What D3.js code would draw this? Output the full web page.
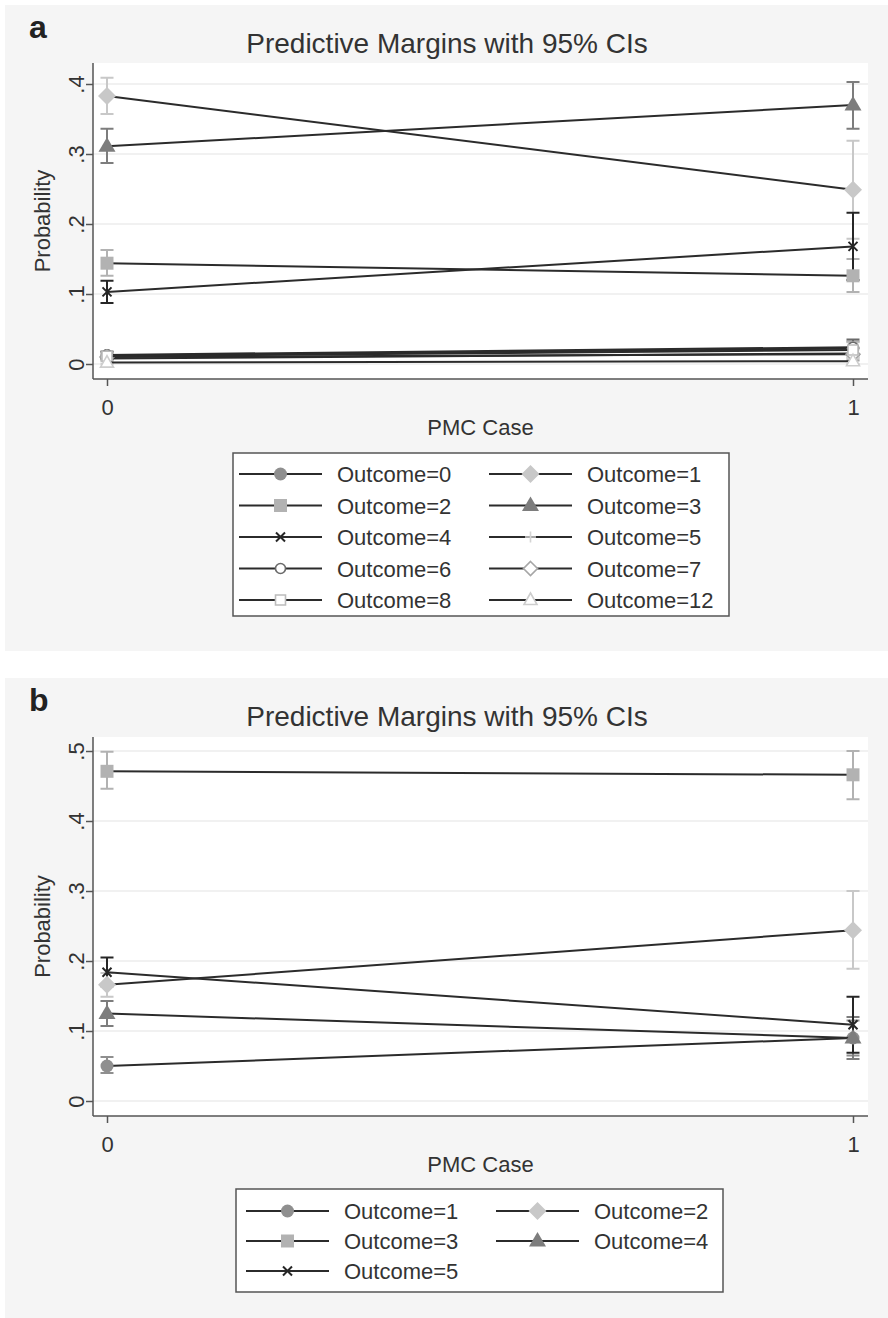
<!DOCTYPE html>
<html>
<head>
<meta charset="utf-8">
<script src="https://cdn.jsdelivr.net/npm/d3@7"></script>
<style>
  body { margin: 0; background: #fff; }
  svg text { font-family: "Liberation Sans", Arial, Helvetica, sans-serif; fill: #333; }
</style>
</head>
<body>
<div id="chart"></div>
<script>
// ---- data, panel a ----
const aOutcomes = ['Outcome=0', 'Outcome=1', 'Outcome=2', 'Outcome=3', 'Outcome=4',
                   'Outcome=5', 'Outcome=6', 'Outcome=7', 'Outcome=8', 'Outcome=12'];
const aMargin0 = [0.012, 0.383, 0.144, 0.311, 0.103, 0.008, 0.013, 0.010, 0.011, 0.002];
const aMargin1 = [0.022, 0.249, 0.126, 0.370, 0.168, 0.015, 0.024, 0.014, 0.020, 0.004];
const aLow0    = [0.007, 0.357, 0.126, 0.287, 0.087, 0.004, 0.008, 0.006, 0.006, 0.000];
const aHigh0   = [0.017, 0.409, 0.163, 0.336, 0.119, 0.012, 0.018, 0.014, 0.016, 0.004];
const aLow1    = [0.012, 0.179, 0.103, 0.336, 0.120, 0.006, 0.013, 0.005, 0.009, 0.000];
const aHigh1   = [0.032, 0.319, 0.150, 0.403, 0.216, 0.024, 0.035, 0.023, 0.031, 0.009];
const aTicks = [0, 0.1, 0.2, 0.3, 0.4];
const aTickLabels = ['0', '.1', '.2', '.3', '.4'];

// ---- data, panel b ----
const bOutcomes = ['Outcome=1', 'Outcome=2', 'Outcome=3', 'Outcome=4', 'Outcome=5'];
const bMargin0 = [0.050, 0.166, 0.471, 0.125, 0.184];
const bMargin1 = [0.090, 0.244, 0.466, 0.090, 0.109];
const bLow0    = [0.040, 0.149, 0.446, 0.107, 0.164];
const bHigh0   = [0.063, 0.183, 0.499, 0.143, 0.205];
const bLow1    = [0.065, 0.189, 0.431, 0.060, 0.069];
const bHigh1   = [0.115, 0.300, 0.500, 0.120, 0.149];
const bTicks = [0, 0.1, 0.2, 0.3, 0.4, 0.5];
const bTickLabels = ['0', '.1', '.2', '.3', '.4', '.5'];

const xCats = [0, 1];
const xLabels = ['0', '1'];

// marker styles in plotting order (Stata mono scheme look)
const styles = [
    { shape: 'circle',   color: '#8f8f8f', fill: true },
    { shape: 'diamond',  color: '#c8c8c8', fill: true },
    { shape: 'square',   color: '#b2b2b2', fill: true },
    { shape: 'triangle', color: '#7d7d7d', fill: true },
    { shape: 'x',        color: '#262626', fill: false },
    { shape: 'plus',     color: '#d4d4d4', fill: false },
    { shape: 'ocircle',  color: '#6a6a6a', fill: false },
    { shape: 'odiamond', color: '#a6a6a6', fill: false },
    { shape: 'osquare',  color: '#bcbcbc', fill: false },
    { shape: 'otriangle', color: '#cdcdcd', fill: false }
];

function markerPath(shape) {
    const p = d3.path();
    if (shape === 'circle') { p.arc(0, 0, 6.5, 0, 2 * Math.PI); }
    else if (shape === 'ocircle') { p.arc(0, 0, 5, 0, 2 * Math.PI); }
    else if (shape === 'diamond' || shape === 'odiamond') {
        const r = shape === 'diamond' ? 9 : 7;
        p.moveTo(0, -r); p.lineTo(r, 0); p.lineTo(0, r); p.lineTo(-r, 0); p.closePath();
    }
    else if (shape === 'square' || shape === 'osquare') {
        const h = shape === 'square' ? 6.5 : 5;
        p.rect(-h, -h, 2 * h, 2 * h);
    }
    else if (shape === 'triangle') {
        p.moveTo(0, -9); p.lineTo(8.5, 5.5); p.lineTo(-8.5, 5.5); p.closePath();
    }
    else if (shape === 'otriangle') {
        p.moveTo(0, -7); p.lineTo(6.5, 4.5); p.lineTo(-6.5, 4.5); p.closePath();
    }
    else if (shape === 'x') {
        p.moveTo(-4.5, -4.5); p.lineTo(4.5, 4.5); p.moveTo(4.5, -4.5); p.lineTo(-4.5, 4.5);
    }
    else if (shape === 'plus') {
        p.moveTo(-5.5, 0); p.lineTo(5.5, 0); p.moveTo(0, -5.5); p.lineTo(0, 5.5);
    }
    return p.toString();
}

function drawMarker(g, st, x, y) {
    g.append('path')
        .attr('d', markerPath(st.shape))
        .attr('transform', 'translate(' + x + ',' + y + ')')
        .attr('fill', st.fill ? st.color : (st.shape === 'x' || st.shape === 'plus' ? 'none' : '#fff'))
        .attr('stroke', st.color)
        .attr('stroke-width', st.fill ? 0 : (st.shape === 'x' ? 2 : 1.6));
}

const svg = d3.select('#chart')
    .append('svg')
    .attr('width', 888)
    .attr('height', 1318);

function drawPanel(cfg) {
    const g = svg.append('g');
    const top = cfg.top;

    // panel background
    g.append('rect')
        .attr('x', 5).attr('y', top)
        .attr('width', 883).attr('height', cfg.height)
        .attr('fill', '#f5f5f5');

    g.append('text')
        .text(cfg.letter)
        .attr('x', 29).attr('y', top + 33)
        .style('font-size', '32px')
        .style('font-weight', 'bold')
        .style('fill', '#222');

    g.append('text')
        .text('Predictive Margins with 95% CIs')
        .attr('x', 447).attr('y', top + 48)
        .attr('text-anchor', 'middle')
        .style('font-size', '28px');

    const plotLeft = 93, plotRight = 868;
    const plotTop = cfg.plotTop, plotBottom = cfg.plotBottom;

    const xScale = d3.scaleLinear().domain([0, 1]).range([107, 853]);
    const yScale = d3.scaleLinear().domain([0, cfg.ticks[cfg.ticks.length - 1]])
        .range([cfg.zeroY, cfg.zeroY - 70 * (cfg.ticks.length - 1)]);

    g.append('rect')
        .attr('x', plotLeft).attr('y', plotTop)
        .attr('width', plotRight - plotLeft).attr('height', plotBottom - plotTop)
        .attr('fill', '#fff');

    // gridlines
    g.selectAll('.grid')
        .data(cfg.ticks)
        .enter()
        .append('line')
        .attr('x1', plotLeft).attr('x2', plotRight)
        .attr('y1', d => yScale(d)).attr('y2', d => yScale(d))
        .attr('stroke', '#ededed')
        .attr('stroke-width', 1.5);

    // y axis
    const yAxis = d3.axisLeft(yScale)
        .tickValues(cfg.ticks)
        .tickSize(7)
        .tickFormat((d, i) => cfg.tickLabels[i]);
    const yg = g.append('g')
        .attr('transform', 'translate(' + plotLeft + ',0)')
        .call(yAxis);
    yg.select('.domain').attr('d', 'M0,' + plotTop + 'V' + plotBottom);
    yg.selectAll('line').attr('stroke', '#555').attr('stroke-width', 1.5);
    yg.select('.domain').attr('stroke', '#555').attr('stroke-width', 1.5);
    yg.selectAll('.tick text')
        .attr('x', 0).attr('dy', 0)
        .attr('transform', 'translate(-9,0) rotate(-90)')
        .attr('text-anchor', 'middle')
        .style('font-size', '22px')
        .style('font-family', '"Liberation Sans", Arial, sans-serif')
        .attr('fill', '#333');

    // x axis
    const xAxis = d3.axisBottom(xScale)
        .tickValues(xCats)
        .tickSize(7)
        .tickFormat((d, i) => xLabels[i]);
    const xg = g.append('g')
        .attr('transform', 'translate(0,' + plotBottom + ')')
        .call(xAxis);
    xg.select('.domain').attr('d', 'M' + plotLeft + ',0H' + plotRight)
        .attr('stroke', '#555').attr('stroke-width', 1.5);
    xg.selectAll('line').attr('stroke', '#555').attr('stroke-width', 1.5);
    xg.selectAll('.tick text')
        .attr('y', 36).attr('dy', 0)
        .style('font-size', '22px')
        .style('font-family', '"Liberation Sans", Arial, sans-serif')
        .attr('fill', '#333');

    g.append('text')
        .text('Probability')
        .attr('transform', 'translate(50,' + ((plotTop + plotBottom) / 2) + ') rotate(-90)')
        .attr('text-anchor', 'middle')
        .style('font-size', '22px');

    g.append('text')
        .text('PMC Case')
        .attr('x', (plotLeft + plotRight) / 2)
        .attr('y', plotBottom + 56)
        .attr('text-anchor', 'middle')
        .style('font-size', '22px');

    const n = cfg.labels.length;
    const series = d3.range(n).map(i => ({
        style: styles[i],
        pts: [
            { x: 0, m: cfg.m0[i], lo: cfg.lo0[i], hi: cfg.hi0[i] },
            { x: 1, m: cfg.m1[i], lo: cfg.lo1[i], hi: cfg.hi1[i] }
        ]
    }));

    // confidence intervals first
    series.forEach(s => {
        s.pts.forEach(p => {
            const cx = xScale(p.x);
            const path = d3.path();
            path.moveTo(cx, yScale(p.lo)); path.lineTo(cx, yScale(p.hi));
            path.moveTo(cx - 6.5, yScale(p.lo)); path.lineTo(cx + 6.5, yScale(p.lo));
            path.moveTo(cx - 6.5, yScale(p.hi)); path.lineTo(cx + 6.5, yScale(p.hi));
            g.append('path')
                .attr('d', path.toString())
                .attr('fill', 'none')
                .attr('stroke', s.style.color)
                .attr('stroke-width', 2);
        });
    });

    // connected lines and markers
    const line = d3.line().x(p => xScale(p.x)).y(p => yScale(p.m));
    series.forEach(s => {
        g.append('path')
            .attr('d', line(s.pts))
            .attr('fill', 'none')
            .attr('stroke', '#2b2b2b')
            .attr('stroke-width', 2);
        s.pts.forEach(p => drawMarker(g, s.style, xScale(p.x), yScale(p.m)));
    });

    // legend
    const lg = cfg.legend;
    g.append('rect')
        .attr('x', lg.x).attr('y', lg.y)
        .attr('width', lg.w).attr('height', lg.h)
        .attr('fill', '#fff')
        .attr('stroke', '#555')
        .attr('stroke-width', 1.5);
    cfg.labels.forEach((label, i) => {
        const col = i % 2, row = Math.floor(i / 2);
        const x0 = lg.x + lg.pad + col * lg.colW;
        const cy = lg.y + lg.firstRow + row * lg.rowH;
        g.append('line')
            .attr('x1', x0).attr('x2', x0 + 83)
            .attr('y1', cy).attr('y2', cy)
            .attr('stroke', '#2b2b2b')
            .attr('stroke-width', 2);
        drawMarker(g, styles[i], x0 + 41.5, cy);
        g.append('text')
            .text(label)
            .attr('x', x0 + 98).attr('y', cy + 8)
            .style('font-size', '22px');
    });
}

drawPanel({
    letter: 'a', top: 5, height: 646,
    plotTop: 63, plotBottom: 379, zeroY: 364,
    ticks: aTicks, tickLabels: aTickLabels, labels: aOutcomes,
    m0: aMargin0, m1: aMargin1, lo0: aLow0, hi0: aHigh0, lo1: aLow1, hi1: aHigh1,
    legend: { x: 233, y: 453, w: 496, h: 163, pad: 6, colW: 250, firstRow: 21, rowH: 31.5 }
});

drawPanel({
    letter: 'b', top: 678, height: 640,
    plotTop: 737, plotBottom: 1116, zeroY: 1101,
    ticks: bTicks, tickLabels: bTickLabels, labels: bOutcomes,
    m0: bMargin0, m1: bMargin1, lo0: bLow0, hi0: bHigh0, lo1: bLow1, hi1: bHigh1,
    legend: { x: 236, y: 1189, w: 487, h: 103, pad: 10, colW: 250, firstRow: 22, rowH: 30 }
});
</script>
</body>
</html>
